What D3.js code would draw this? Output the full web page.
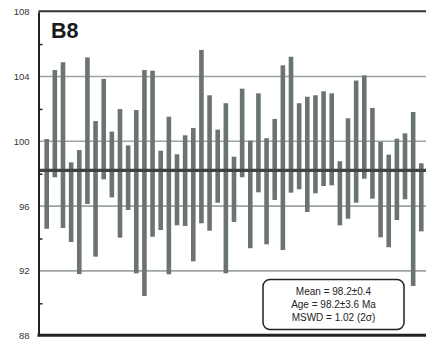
<!DOCTYPE html>
<html>
<head>
<meta charset="utf-8">
<script src="https://cdn.jsdelivr.net/npm/d3@7"></script>
<style>
  body { margin: 0; background: #fff; }
  svg { display: block; font-family: "Liberation Sans", Arial, sans-serif; }
</style>
</head>
<body>
<svg width="426" height="341"></svg>
<script>
// spot ages, lower and upper ends of each error bar (Ma)
var lows  = [94.6, 97.78, 94.65, 93.78, 91.8, 96.13, 92.88, 97.65, 96.54, 94.05,
             95.76, 91.85, 90.45, 94.11, 94.52, 91.79, 94.81, 94.77, 92.59, 94.94,
             94.48, 96.21, 91.85, 95.02, 97.78, 93.4, 96.85, 93.64, 96.38, 93.29,
             96.83, 97.04, 95.64, 96.79, 97.24, 97.28, 94.81, 95.22, 96.21, 97.69,
             96.46, 94.07, 93.46, 95.14, 96.42, 91.07, 94.44];
var highs = [100.14, 104.4, 104.88, 98.7, 99.46, 105.18, 101.25, 103.85, 100.6, 101.99,
             99.75, 101.93, 104.4, 104.36, 99.42, 101.52, 99.2, 100.37, 100.82, 105.64,
             102.84, 100.72, 102.35, 99.05, 103.25, 100.04, 102.96, 100.19, 101.38, 104.69,
             105.22, 102.35, 102.75, 102.84, 103.09, 102.96, 98.77, 101.42, 103.75, 104.07,
             102.06, 99.96, 99.18, 100.16, 100.49, 101.81, 98.64];
var meanAge = 98.2;
var majorTicks = [88, 92, 96, 100, 104, 108];
var minorTicks = [90, 94, 98, 102, 106];
var gridTicks = [92, 96, 100, 104];
var sampleLabel = "B8";
var statLines = ["Mean = 98.2\u00b10.4", "Age = 98.2\u00b13.6 Ma", "MSWD = 1.02 (2\u03c3)"];

var svg = d3.select('svg');
var plotLeft = 38.5, plotRight = 440, plotTop = 11.7, plotBottom = 335.7;

var y = d3.scaleLinear().domain([88, 108]).range([plotBottom, plotTop]);
var x = d3.scaleLinear().domain([0, lows.length - 1]).range([46.7, 421.3]);

// grid
svg.append('g').selectAll('line')
   .data(gridTicks).join('line')
   .attr('x1', plotLeft).attr('x2', plotRight)
   .attr('y1', d => y(d)).attr('y2', d => y(d))
   .attr('stroke', '#9da4a3').attr('stroke-width', 1.6);

// error bars
svg.append('g').selectAll('rect')
   .data(lows.map((d, i) => ({lo: d, hi: highs[i], i: i})))
   .join('rect')
   .attr('x', d => x(d.i) - 2.3)
   .attr('width', 4.6)
   .attr('y', d => y(d.hi))
   .attr('height', d => y(d.lo) - y(d.hi))
   .attr('fill', '#6c7472');

// weighted mean
svg.append('line')
   .attr('x1', plotLeft).attr('x2', plotRight)
   .attr('y1', y(meanAge)).attr('y2', y(meanAge))
   .attr('stroke', '#3f4443').attr('stroke-width', 3.2);

// frame
svg.append('line').attr('x1', plotLeft).attr('x2', plotRight)
   .attr('y1', plotTop - 0.5).attr('y2', plotTop - 0.5)
   .attr('stroke', '#333').attr('stroke-width', 2);
svg.append('line').attr('x1', plotLeft - 1).attr('x2', plotRight)
   .attr('y1', plotBottom - 0.5).attr('y2', plotBottom - 0.5)
   .attr('stroke', '#222').attr('stroke-width', 3);

var yAxis = svg.append('g')
   .attr('transform', 'translate(' + plotLeft + ',0)')
   .call(d3.axisLeft(y).tickValues(majorTicks).tickSize(0).tickPadding(9));
yAxis.select('.domain').attr('stroke', '#222').attr('stroke-width', 2);
yAxis.selectAll('text').attr('font-size', 9.5).attr('fill', '#333')
   .attr('font-family', '"Liberation Sans", Arial, sans-serif');

var minor = svg.append('g')
   .attr('transform', 'translate(' + plotLeft + ',0)')
   .call(d3.axisLeft(y).tickValues(minorTicks).tickSize(-4).tickFormat(''));
minor.select('.domain').remove();
minor.selectAll('line').attr('stroke', '#222').attr('stroke-width', 1.5);

// sample label
svg.append('text')
   .attr('x', 51).attr('y', 38)
   .attr('font-size', 21.5).attr('font-weight', 'bold').attr('fill', '#1a1a1a')
   .text(sampleLabel);

// stats box
var box = svg.append('g').attr('transform', 'translate(263,279.5)');
box.append('rect')
   .attr('width', 141).attr('height', 50).attr('rx', 7)
   .attr('fill', '#fff').attr('stroke', '#222').attr('stroke-width', 1.5);
box.selectAll('text')
   .data(statLines).join('text')
   .attr('x', 70.5).attr('y', (d, i) => 15 + i * 13)
   .attr('text-anchor', 'middle')
   .attr('font-size', 10).attr('fill', '#222')
   .text(d => d);
</script>
</body>
</html>
